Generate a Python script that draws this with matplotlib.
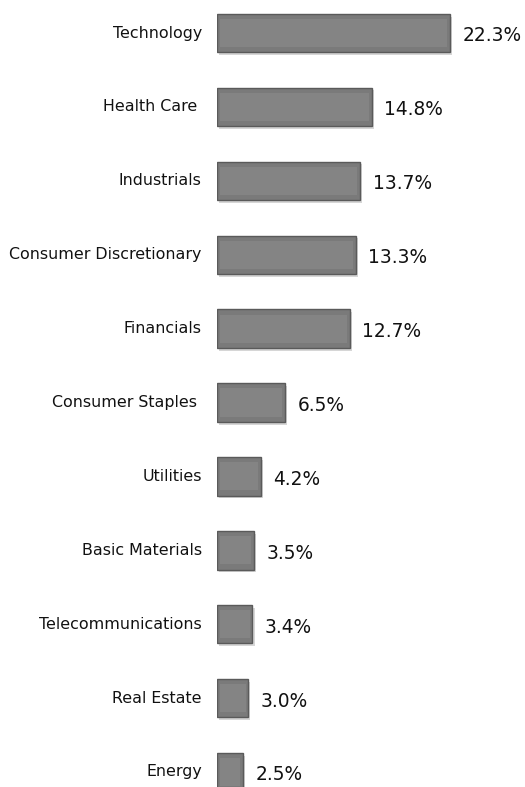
import matplotlib
matplotlib.use("Agg")
import matplotlib.pyplot as plt
import matplotlib.patheffects as pe

sectors = ["Technology", "Health Care ", "Industrials", "Consumer Discretionary",
           "Financials", "Consumer Staples ", "Utilities", "Basic Materials",
           "Telecommunications", "Real Estate", "Energy"]
weights = [22.3, 14.8, 13.7, 13.3, 12.7, 6.5, 4.2, 3.5, 3.4, 3.0, 2.5]
labels = ["22.3%", "14.8%", "13.7%", "13.3%", "12.7%", "6.5%", "4.2%",
          "3.5%", "3.4%", "3.0%", "2.5%"]

fig = plt.figure(figsize=(5.25, 7.87), dpi=100)
ax = fig.add_axes([217 / 525, 0, 1 - 217 / 525, 1])

ypos = list(range(len(sectors)))
bars = ax.barh(ypos, weights, height=0.52, color="#7a7a7a",
               edgecolor="#5a5a5a", linewidth=1.0)
for b in bars:
    b.set_path_effects([pe.SimplePatchShadow(offset=(1.5, -2), shadow_rgbFace="#bbbbbb", alpha=0.6),
                        pe.Normal()])

# lighter inner face to mimic the bevel
ax.barh(ypos, [w - 0.5 for w in weights], left=0.25, height=0.38,
        color="#848484", edgecolor="none")

for y, w, lab in zip(ypos, weights, labels):
    ax.text(w + 1.2, y + 0.04, lab, va="center", ha="left", fontsize=13.4,
            color="#111111")
    ax.text(-1.45, y, sectors[y], va="center", ha="right", fontsize=11.4,
            color="#111111", clip_on=False)

ax.set_xlim(0, 29.5)
ax.set_ylim(10.203, -0.447)
ax.axis("off")

fig.savefig("out.png", dpi=100)
